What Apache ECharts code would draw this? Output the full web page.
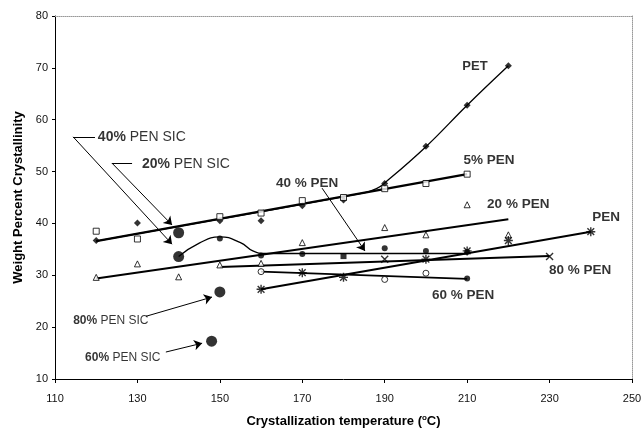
<!DOCTYPE html>
<html lang="en">
<head>
<meta charset="UTF-8">
<title>Weight Percent Crystallinity</title>
<style>
  body { margin: 0; background: #fff; }
  #chart { width: 642px; height: 429px; }
</style>
</head>
<body>
<div id="chart"></div>
<script src="https://cdn.jsdelivr.net/npm/echarts@6/dist/echarts.min.js"></script>
<script>
// measured points, [temperature (C), weight % crystallinity]
var petPoints   = [[120, 36.7], [130, 40.1], [150, 40.5], [160, 40.5], [170, 43.4], [180, 44.5], [190, 47.7], [200, 54.9], [210, 62.8], [220, 70.4]];
var pen5Points  = [[120, 38.5], [130, 37.0], [150, 41.3], [160, 42.0], [170, 44.4], [180, 45.0], [190, 46.7], [200, 47.7], [210, 49.5]];
var pen20Points = [[120, 29.6], [130, 32.2], [140, 29.7], [150, 32.0], [160, 32.3], [170, 36.3], [190, 39.2], [200, 37.8], [210, 43.6], [220, 37.8]];
var pen40Points = [[150, 37.1], [160, 33.8], [170, 34.1], [190, 35.2], [200, 34.7], [210, 34.5]];
var pen40Square = [[180, 33.7]];
var pen60Points = [[160, 30.7], [190, 29.2], [200, 30.4]];
var pen60Filled = [[210, 29.4]];
var penPoints   = [[160, 27.3], [170, 30.5], [180, 29.6], [200, 33.1], [210, 34.7], [220, 36.7], [240, 38.4]];
var pen80Points = [[190, 33.1], [230, 33.6]];
var sicPoints   = [[140, 38.2], [140, 33.6], [150, 26.8], [148, 17.3]];

// fitted / trend lines
var petCurve   = [[120, 36.6], [185, 45.9], [188, 46.7], [190, 47.8], [200, 54.8], [210, 62.8], [220, 70.4]];
var pen5Line   = [[120, 36.6], [210, 49.5]];
var pen20Line  = [[120, 29.4], [220, 40.8]];
var pen40Curve = [[140, 33.6], [145, 36.2], [150, 37.4], [155, 36.3], [158, 34.7], [161, 34.2], [210, 34.2]];
var pen60Line  = [[160, 30.7], [210, 29.3]];
var penLine    = [[160, 27.3], [240, 38.4]];
var pen80Line  = [[150, 31.6], [230, 33.7]];

// annotation text, leader stubs and arrows
var labels = [
  { value: [211.9, 70.2], text: 'PET', align: 'center', size: 13 },
  { value: [215.3, 52.2], text: '5% PEN', align: 'center', size: 13.5 },
  { value: [222.4, 43.6], text: '20 % PEN', align: 'center', size: 13.5 },
  { value: [243.7, 41.2], text: 'PEN', align: 'center', size: 13.5 },
  { value: [237.4, 31.0], text: '80 % PEN', align: 'center', size: 13.5 },
  { value: [209.0, 26.2], text: '60 % PEN', align: 'center', size: 13.5 },
  { value: [171.2, 47.8], text: '40 % PEN', align: 'center', size: 13.5 },
  { value: [120.4, 56.7], text: '{b|40%} PEN SIC', align: 'left', size: 14 },
  { value: [131.1, 51.5], text: '{b|20%} PEN SIC', align: 'left', size: 14 },
  { value: [114.4, 21.2], text: '{b|80%} PEN SIC', align: 'left', size: 12 },
  { value: [117.3, 14.2], text: '{b|60%} PEN SIC', align: 'left', size: 12 }
];
var stubs = [
  [[119.7, 56.7], [114.4, 56.7]],
  [[128.7, 51.65], [123.8, 51.65]]
];
var arrows = [
  [[114.4, 56.7], [138.4, 36.0]],
  [[123.8, 51.65], [138.4, 39.7]],
  [[132.1, 22.1], [148.1, 25.8]],
  [[136.9, 15.2], [145.7, 16.9]],
  [[174.8, 46.8], [185.2, 34.7]]
];

var FONT = 'Liberation Sans';
var ASTER = 'path://M0,-6L0,6M-6,0L6,0M-4.5,-4.5L4.5,4.5M-4.5,4.5L4.5,-4.5';
var CROSS = 'path://M-5,-5L5,5M-5,5L5,-5';
var openStyle = { color: '#fff', borderColor: '#000', borderWidth: 1 };
var solidStyle = { color: '#000' };
var strokeStyle = { color: 'none', borderColor: '#000', borderWidth: 1.4 };

function trend(data, width, smooth) {
  return {
    type: 'line', data: data, showSymbol: false, smooth: smooth || false,
    lineStyle: { color: '#000', width: width }, z: 2, silent: true
  };
}
function marks(data, symbol, size, style) {
  return {
    type: 'scatter', data: data, symbol: symbol, symbolSize: size,
    itemStyle: style, z: 3
  };
}
function leaders(list, withArrow) {
  return {
    type: 'lines', coordinateSystem: 'cartesian2d', z: 4, silent: true,
    symbol: withArrow ? ['none', 'arrow'] : 'none', symbolSize: 8,
    lineStyle: { color: '#000', width: 1, opacity: 1 },
    data: list.map(function (c) { return { coords: c }; })
  };
}

var chart = echarts.init(document.getElementById('chart'));
var option = {
  animation: false,
  textStyle: { fontFamily: FONT },
  grid: { left: 55, right: 10, top: 16, bottom: 50, containLabel: false, outerBoundsMode: 'none' },
  xAxis: [{
    type: 'value', min: 110, max: 250, interval: 20,
    name: 'Crystallization temperature ({s|o}C)', nameLocation: 'middle', nameGap: 35,
    nameTextStyle: {
      fontFamily: FONT, fontSize: 13, fontWeight: 'bold', color: '#000',
      rich: { s: { fontSize: 8, fontWeight: 'bold', verticalAlign: 'top', padding: [0, 0, 6, 0] } }
    },
    axisLine: { lineStyle: { color: '#000', width: 1 } },
    axisTick: { inside: false, length: 4, lineStyle: { color: '#000' } },
    axisLabel: { fontFamily: FONT, fontSize: 11, color: '#111', margin: 14 },
    splitLine: { show: false }
  }, {
    type: 'value', position: 'top', min: 110, max: 250,
    axisLine: { lineStyle: { color: '#999', type: 'dotted' } },
    axisTick: { show: false }, axisLabel: { show: false }, splitLine: { show: false }
  }],
  yAxis: [{
    type: 'value', min: 10, max: 80, interval: 10,
    name: 'Weight Percent Crystallinity', nameLocation: 'middle', nameGap: 16,
    nameTextStyle: { fontFamily: FONT, fontSize: 13, fontWeight: 'bold', color: '#000' },
    axisLine: { show: true, lineStyle: { color: '#000', width: 1 } },
    axisTick: { show: true, length: 3, lineStyle: { color: '#000' } },
    axisLabel: { fontFamily: FONT, fontSize: 11, color: '#111', margin: 7 },
    splitLine: { show: false }
  }, {
    type: 'value', position: 'right', min: 10, max: 80,
    axisLine: { show: true, lineStyle: { color: '#999', type: 'dotted' } },
    axisTick: { show: false }, axisLabel: { show: false }, splitLine: { show: false }
  }],
  series: [
    trend(petCurve, 1.3, 0.4),
    trend(pen5Line, 2.4),
    trend(pen20Line, 2),
    trend(pen40Curve, 1.3, 0.5),
    trend(pen60Line, 1.6),
    trend(penLine, 2),
    trend(pen80Line, 2),
    marks(petPoints, 'diamond', 7, solidStyle),
    marks(pen5Points, 'rect', 6, openStyle),
    marks(pen20Points, 'triangle', 6, openStyle),
    marks(pen40Points, 'circle', 6, solidStyle),
    marks(pen40Square, 'rect', 6, solidStyle),
    marks(pen60Points, 'circle', 6, openStyle),
    marks(pen60Filled, 'circle', 6, solidStyle),
    marks(penPoints, ASTER, 9, strokeStyle),
    marks(pen80Points, CROSS, 7, strokeStyle),
    marks(sicPoints, 'circle', 11, solidStyle),
    leaders(stubs, false),
    leaders(arrows, true),
    {
      type: 'scatter', symbolSize: 0, z: 5, silent: true,
      data: labels.map(function (l) {
        return {
          value: l.value,
          label: {
            show: true, position: 'inside', formatter: l.text, align: l.align,
            fontFamily: FONT, fontSize: l.size,
            fontWeight: l.align === 'left' ? 'normal' : 'bold', color: '#000',
            rich: { b: { fontFamily: FONT, fontSize: l.size, fontWeight: 'bold', color: '#000' } }
          }
        };
      })
    }
  ]
};
chart.setOption(option);
</script>
</body>
</html>
